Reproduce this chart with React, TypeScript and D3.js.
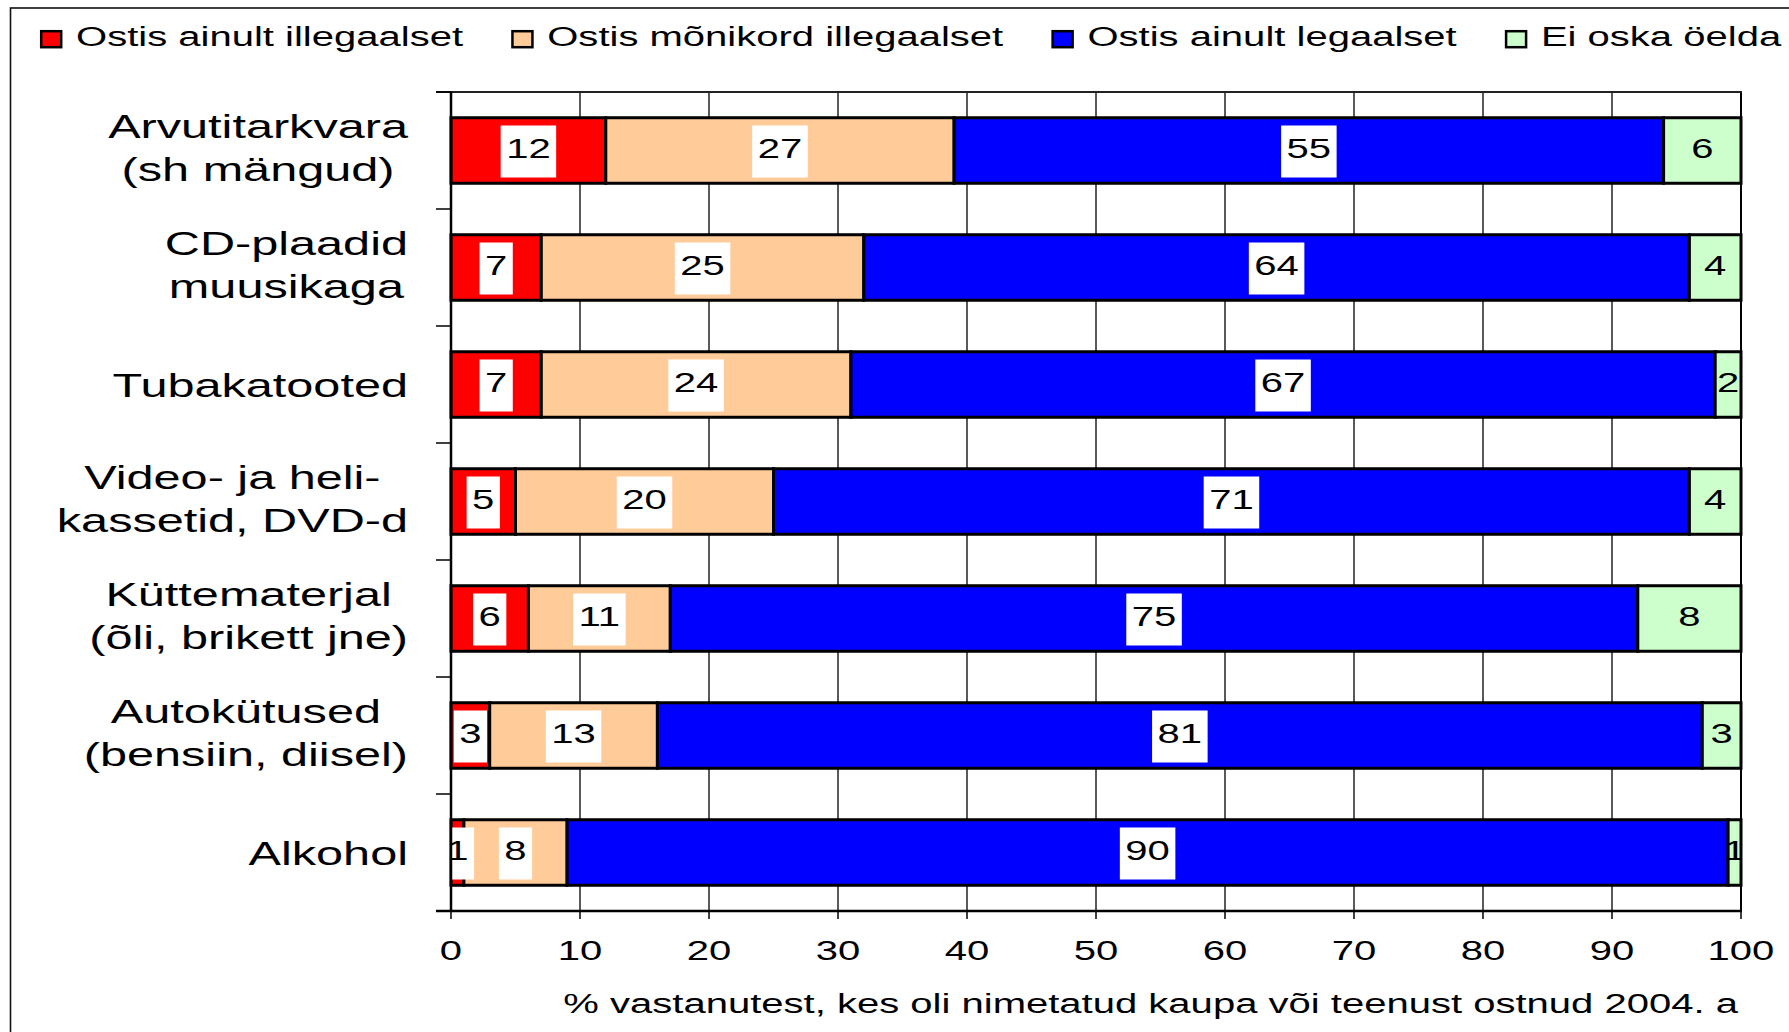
import React, { useEffect, useRef } from "react";
import * as d3 from "d3";

const categories = [
  "Arvutitarkvara\n(sh mängud)",
  "CD-plaadid\nmuusikaga",
  "Tubakatooted",
  "Video- ja heli-\nkassetid, DVD-d",
  "Küttematerjal\n(õli, brikett jne)",
  "Autokütused\n(bensiin, diisel)",
  "Alkohol",
];
const seriesNames = [
  "Ostis ainult illegaalset",
  "Ostis mõnikord illegaalset",
  "Ostis ainult legaalset",
  "Ei oska öelda",
];
const onlyIllegal = [12, 7, 7, 5, 6, 3, 1];
const sometimesIllegal = [27, 25, 24, 20, 11, 13, 8];
const onlyLegal = [55, 64, 67, 71, 75, 81, 90];
const dontKnow = [6, 4, 2, 4, 8, 3, 1];
const xTicks = [0, 10, 20, 30, 40, 50, 60, 70, 80, 90, 100];
const axisTitle = "% vastanutest, kes oli nimetatud kaupa või teenust ostnud 2004. a";

const colors = ["#ff0000", "#ffcc99", "#0000ff", "#ccffcc"];
const FONT = "'Liberation Sans', Arial, sans-serif";
// the source picture is stretched sideways, so text is too
const SX = 1.43;

const ctx = document.createElement("canvas").getContext("2d") as CanvasRenderingContext2D;
function textWidth(s: string, size: number) {
  ctx.font = `${size}px ${FONT}`;
  return ctx.measureText(s).width * SX;
}

function App() {
  const ref = useRef<SVGSVGElement>(null);

  useEffect(() => {
    const svg = d3.select(ref.current);
    svg.selectAll("*").remove();

    const left = 451, right = 1741, top = 92, bottom = 911;
    const x = d3.scaleLinear().domain([0, 100]).range([left, right]);
    const y = d3
      .scaleBand()
      .domain(categories)
      .range([top, bottom])
      .paddingInner(0.44)
      .paddingOuter(0.22);

    const stretched = (g: any, str: string, tx: number, ty: number, size: number, anchor: string) =>
      g
        .append("text")
        .attr("transform", `translate(${tx},${ty}) scale(${SX},1)`)
        .attr("text-anchor", anchor)
        .attr("font-family", FONT)
        .attr("font-size", size)
        .attr("fill", "#000")
        .text(str);

    // outer frame (runs off the right and bottom edges)
    svg
      .append("rect")
      .attr("x", 10.5)
      .attr("y", 8)
      .attr("width", 2000)
      .attr("height", 2000)
      .attr("fill", "none")
      .attr("stroke", "#111")
      .attr("stroke-width", 1.6);

    // legend
    let lx = 40;
    seriesNames.forEach((name, i) => {
      svg
        .append("rect")
        .attr("x", lx + 1.2)
        .attr("y", 31.2)
        .attr("width", 20)
        .attr("height", 16)
        .attr("fill", colors[i])
        .attr("stroke", "#000")
        .attr("stroke-width", 2.5);
      stretched(svg, name, lx + 36, 46, 28, "start");
      lx += 36 + textWidth(name, 28) + 48;
    });

    // gridlines
    svg
      .append("g")
      .selectAll("line")
      .data(xTicks)
      .join("line")
      .attr("x1", (d) => x(d))
      .attr("x2", (d) => x(d))
      .attr("y1", top)
      .attr("y2", bottom)
      .attr("stroke", "#000")
      .attr("stroke-width", (d) => (d === 100 ? 2 : 1.3));

    svg
      .append("line")
      .attr("x1", left - 15)
      .attr("x2", right + 1)
      .attr("y1", top)
      .attr("y2", top)
      .attr("stroke", "#222")
      .attr("stroke-width", 2);

    // stacked bars
    const rows = categories.map((c, i) => ({
      cat: c,
      s0: onlyIllegal[i],
      s1: sometimesIllegal[i],
      s2: onlyLegal[i],
      s3: dontKnow[i],
    }));
    const keys = ["s0", "s1", "s2", "s3"];
    const stacked = d3.stack<any>().keys(keys)(rows);
    const bw = y.bandwidth();

    stacked.forEach((layer, si) => {
      svg
        .append("g")
        .selectAll("rect")
        .data(layer)
        .join("rect")
        .attr("x", (d) => x(d[0]))
        .attr("width", (d) => x(d[1]) - x(d[0]))
        .attr("y", (d: any) => y(d.data.cat) as number)
        .attr("height", bw)
        .attr("fill", colors[si])
        .attr("stroke", "#000")
        .attr("stroke-width", 3);
    });

    // data labels, clipped to the plot area
    svg
      .append("clipPath")
      .attr("id", "plotClip")
      .append("rect")
      .attr("x", left)
      .attr("y", top)
      .attr("width", right - left + 1)
      .attr("height", bottom - top);

    const labels = svg.append("g").attr("clip-path", "url(#plotClip)");
    stacked.forEach((layer, si) => {
      layer.forEach((d: any) => {
        const v = String(d[1] - d[0]);
        const cx = x((d[0] + d[1]) / 2);
        const cy = (y(d.data.cat) as number) + bw / 2;
        if (si < 3) {
          const w = textWidth(v, 28) + 11;
          labels
            .append("rect")
            .attr("x", cx - w / 2)
            .attr("y", cy - 25)
            .attr("width", w)
            .attr("height", 52)
            .attr("fill", "#fff");
        }
        stretched(labels, v, cx, cy + 7, 28, "middle");
      });
    });

    // value axis
    svg
      .append("line")
      .attr("x1", left - 15)
      .attr("x2", right + 1)
      .attr("y1", bottom)
      .attr("y2", bottom)
      .attr("stroke", "#000")
      .attr("stroke-width", 2.5);
    xTicks.forEach((t) => {
      svg
        .append("line")
        .attr("x1", x(t))
        .attr("x2", x(t))
        .attr("y1", bottom)
        .attr("y2", bottom + 8)
        .attr("stroke", "#000")
        .attr("stroke-width", 1.5);
      stretched(svg, String(t), x(t), 960, 28, "middle");
    });
    stretched(svg, axisTitle, 1738, 1013, 28, "end");

    // category axis
    svg
      .append("line")
      .attr("x1", left)
      .attr("x2", left)
      .attr("y1", top)
      .attr("y2", bottom)
      .attr("stroke", "#000")
      .attr("stroke-width", 2.5);
    d3.range(categories.length + 1).forEach((k) => {
      const ty = top + k * y.step();
      svg
        .append("line")
        .attr("x1", left - 15)
        .attr("x2", left)
        .attr("y1", ty)
        .attr("y2", ty)
        .attr("stroke", "#000")
        .attr("stroke-width", 1.5);
    });

    categories.forEach((c) => {
      const lines = c.split("\n");
      const cy = (y(c) as number) + bw / 2;
      const maxW = d3.max(lines, (l) => textWidth(l, 34)) as number;
      const cx = 408 - maxW / 2;
      if (lines.length === 2) {
        stretched(svg, lines[0], cx, cy - 13, 34, "middle");
        stretched(svg, lines[1], cx, cy + 30, 34, "middle");
      } else {
        stretched(svg, lines[0], cx, cy + 12, 34, "middle");
      }
    });
  }, []);

  return (
    <svg
      ref={ref}
      width={1789}
      height={1032}
      style={{ position: "absolute", left: 0, top: 0, background: "#fff" }}
    />
  );
}

export default App;
